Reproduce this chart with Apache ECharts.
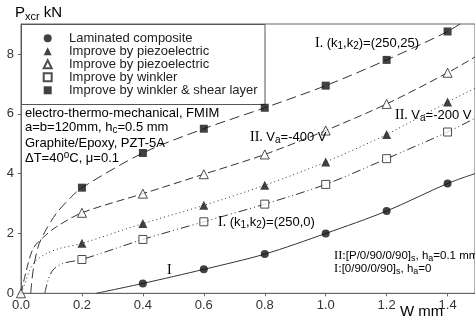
<!DOCTYPE html>
<html>
<head>
<meta charset="utf-8">
<script src="https://cdn.jsdelivr.net/npm/echarts@6/dist/echarts.min.js"></script>
<style>
  html, body { margin: 0; padding: 0; background: #fff; }
  #chart { width: 475px; height: 320px; }
</style>
</head>
<body>
<div id="chart"></div>
<script>
// marker positions (W, mm) and the five marker series (P_xcr, kN)
const wMarks = [0.0, 0.2, 0.4, 0.6, 0.8, 1.0, 1.2, 1.4]
const laminated = [null, null, 0.33, 0.80, 1.31, 2.00, 2.75, 3.67]
const piezoFilled = [null, 1.67, 2.33, 2.94, 3.61, 4.39, 5.31, 6.39]
const piezoOpen = [0.0, 2.69, 3.33, 3.98, 4.64, 5.44, 6.33, 7.37]
const winkler = [null, 1.13, 1.80, 2.39, 2.98, 3.64, 4.50, 5.39]
const winklerShear = [null, 3.53, 4.69, 5.50, 6.20, 6.94, 7.80, 8.75]

// fitted curves [W, P]
const laminatedCurve = [[0.247, 0], [0.4, 0.33], [0.6, 0.80], [0.8, 1.31], [1.0, 2.00], [1.2, 2.75], [1.4, 3.67], [1.49, 4.0]]
const piezoFilledCurve = [[0.0, 0], [0.013, 0.33], [0.029, 0.78], [0.051, 1.11], [0.084, 1.33], [0.127, 1.50], [0.2, 1.67], [0.4, 2.33], [0.6, 2.94], [0.8, 3.61], [1.0, 4.39], [1.2, 5.31], [1.4, 6.39], [1.49, 6.85]]
const piezoOpenCurve = [[0.0, 0], [0.018, 0.78], [0.04, 1.50], [0.073, 1.87], [0.116, 2.22], [0.2, 2.69], [0.4, 3.33], [0.6, 3.98], [0.8, 4.64], [1.0, 5.44], [1.2, 6.33], [1.4, 7.37], [1.49, 7.9]]
const winklerCurve = [[0.078, 0], [0.089, 0.44], [0.105, 0.78], [0.138, 1.00], [0.2, 1.13], [0.4, 1.80], [0.6, 2.39], [0.8, 2.98], [1.0, 3.64], [1.2, 4.50], [1.4, 5.39], [1.49, 5.85]]
const winklerShearCurve = [[0.032, 0], [0.04, 0.78], [0.056, 1.55], [0.078, 2.05], [0.116, 2.67], [0.165, 3.22], [0.2, 3.53], [0.4, 4.69], [0.6, 5.50], [0.8, 6.20], [1.0, 6.94], [1.2, 7.80], [1.4, 8.75], [1.47, 9.2]]

const legendNames = ['Laminated composite', 'Improve by piezoelectric', 'Improve by piezoelectric ', 'Improve by winkler', 'Improve by winkler & shear layer']

function pairs(ys) {
  return wMarks.map((w, i) => [w, ys[i]]).filter(p => p[1] !== null)
}

const sans = 'Liberation Sans'
const serif = 'Liberation Serif'
const ink = '#222'

function curve(name, data, type) {
  return {
    name: name,
    type: 'line',
    data: data,
    smooth: 0.3,
    showSymbol: false,
    silent: true,
    lineStyle: { color: '#333', width: 1, type: type },
    z: 2
  }
}

function marks(name, data, symbol, size, filled) {
  return {
    name: name,
    type: 'scatter',
    data: data,
    symbol: symbol,
    symbolSize: size,
    itemStyle: filled
      ? { color: '#111' }
      : { color: '#fff', borderColor: '#222', borderWidth: 1 },
    z: 5
  }
}

const rich = {
  n: { fontFamily: sans, fontSize: 13, color: '#333', lineHeight: 16 },
  sub: { fontFamily: sans, fontSize: 10, color: '#333', lineHeight: 9, verticalAlign: 'bottom' },
  sup: { fontFamily: sans, fontSize: 10, color: '#333', lineHeight: 9, verticalAlign: 'top' },
  m: { fontFamily: sans, fontSize: 11.5, color: '#333', lineHeight: 14 },
  msub: { fontFamily: sans, fontSize: 9, color: '#333', lineHeight: 8, verticalAlign: 'bottom' },
  r: { fontFamily: serif, fontSize: 14, color: '#666', lineHeight: 16 },
  rm: { fontFamily: serif, fontSize: 12.5, color: '#666', lineHeight: 14 },
  g: { fontFamily: sans, fontSize: 13, color: '#555', lineHeight: 16 },
  gs: { fontFamily: sans, fontSize: 10, color: '#555', lineHeight: 9, verticalAlign: 'bottom' },
  big: { fontFamily: sans, fontSize: 15, color: '#333', lineHeight: 18 },
  bigsub: { fontFamily: sans, fontSize: 11, color: '#333', lineHeight: 10, verticalAlign: 'bottom' }
}

function label(x, y, text) {
  return {
    type: 'text',
    x: x,
    y: y,
    silent: true,
    z: 10,
    style: { text: text, rich: rich, verticalAlign: 'middle', align: 'left' }
  }
}

const chart = echarts.init(document.getElementById('chart'))

chart.setOption({
  animation: false,
  grid: {
    left: 21, top: 24, right: -2, bottom: 26.7,
    show: true, borderColor: '#666', borderWidth: 1
  },
  legend: {
    data: legendNames,
    orient: 'vertical',
    left: 21,
    top: 24,
    padding: [7.8, 10, 6.8, 21.7],
    itemWidth: 8,
    itemHeight: 8,
    itemGap: 0,
    selectedMode: false,
    // extra blank token pushes the text away from the marker
    formatter: name => '{p|}{t|' + name + '}',
    textStyle: {
      fontFamily: sans, fontSize: 13, color: ink, lineHeight: 13,
      rich: {
        p: { width: 12.3, lineHeight: 13 },
        t: { fontFamily: sans, fontSize: 13, color: ink, lineHeight: 13 }
      }
    }
  },
  xAxis: {
    type: 'value',
    min: 0,
    max: 1.49,
    interval: 0.2,
    axisLine: { lineStyle: { color: '#666' } },
    axisTick: { show: true, length: 3, lineStyle: { color: '#666' } },
    splitLine: { show: false },
    axisLabel: {
      margin: 6, fontFamily: sans, fontSize: 13, color: '#333',
      showMaxLabel: false,
      formatter: v => v.toFixed(1)
    }
  },
  yAxis: {
    type: 'value',
    min: 0,
    max: 9,
    interval: 2,
    axisLine: { show: true, lineStyle: { color: '#666' } },
    axisTick: { show: true, length: 3, lineStyle: { color: '#666' } },
    splitLine: { show: false },
    axisLabel: {
      margin: 7, fontFamily: sans, fontSize: 13, color: '#333',
      showMaxLabel: false
    }
  },
  graphic: [
    {
      type: 'rect', silent: true, z: 1,
      shape: { x: 21.5, y: 24.5, width: 243.5, height: 80 },
      style: { fill: '#fff', stroke: '#555', lineWidth: 1 }
    },
    label(15, 13, '{big|P}{bigsub|xcr}{big| kN}'),
    label(400, 312, '{big|W mm}'),
    label(25, 113, '{n|electro-thermo-mechanical, FMIM}'),
    label(25, 127, '{n|a=b=120mm, h}{sub|c}{n|=0.5 mm}'),
    label(25, 143, '{n|Graphite/Epoxy, PZT-5A}'),
    label(25, 158, '{n|ΔT=40}{sup|o}{n|C, μ=0.1}'),
    label(315, 43, '{r|I. }{g|(k}{gs|1}{g|,k}{gs|2}{g|)=(250,25)}'),
    label(250, 137, '{r|II. }{g|V}{gs|a}{g|=-400 V}'),
    label(395, 115, '{r|II. }{g|V}{gs|a}{g|=-200 V}'),
    label(218, 222, '{r|I. }{g|(k}{gs|1}{g|,k}{gs|2}{g|)=(250,0)}'),
    label(167, 270, '{r|I}'),
    label(334, 256, '{rm|II:}{m|[P/0/90/0/90]}{msub|s}{m|, h}{msub|a}{m|=0.1 mm}'),
    label(334, 269, '{rm|I:}{m|[0/90/0/90]}{msub|s}{m|, h}{msub|a}{m|=0}')
  ],
  series: [
    curve('c1', laminatedCurve, 'solid'),
    curve('c2', piezoFilledCurve, [1, 3]),
    curve('c3', piezoOpenCurve, [8, 4]),
    curve('c4', winklerCurve, [9, 3, 1, 3, 1, 3]),
    curve('c5', winklerShearCurve, [10, 5]),
    marks(legendNames[0], pairs(laminated), 'circle', 8, true),
    marks(legendNames[1], pairs(piezoFilled), 'triangle', 9, true),
    marks(legendNames[2], pairs(piezoOpen), 'triangle', 9, false),
    marks(legendNames[3], pairs(winkler), 'rect', 8, false),
    marks(legendNames[4], pairs(winklerShear), 'rect', 8, true)
  ]
})
</script>
</body>
</html>
